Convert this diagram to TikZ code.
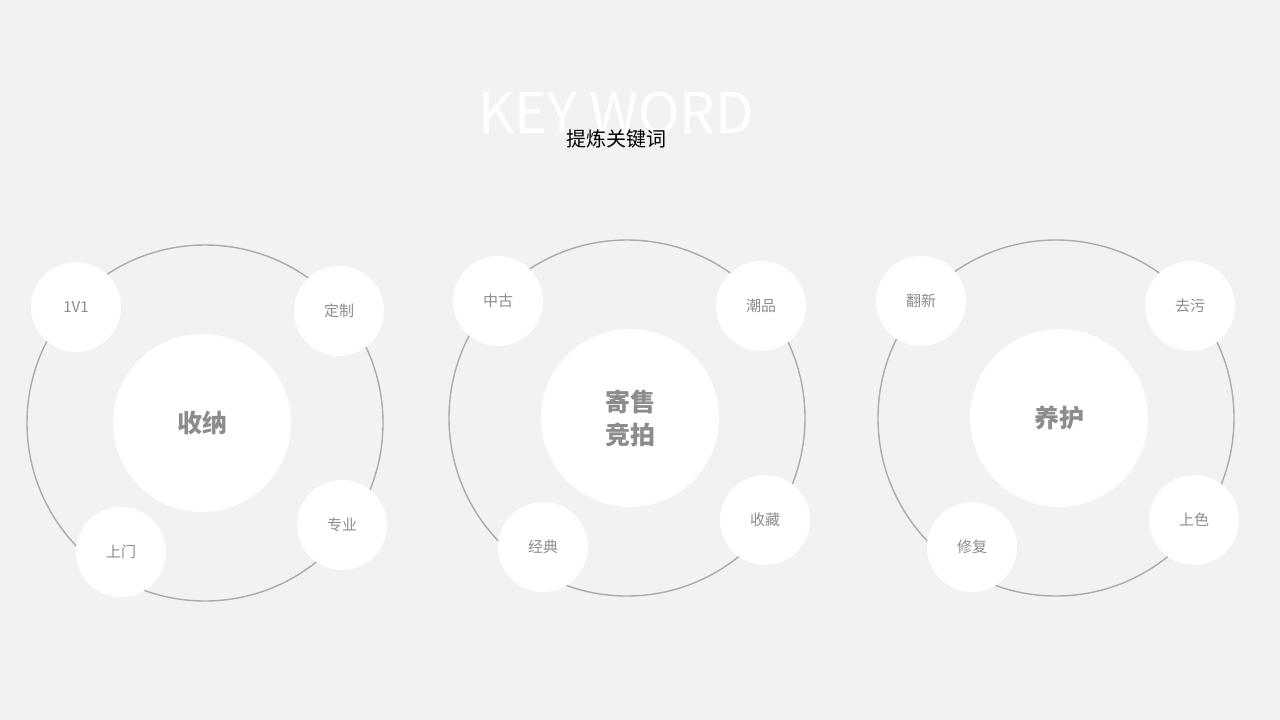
\documentclass[tikz,border=0pt]{standalone}
\usepackage{fontspec}
\setmainfont{Noto Sans CJK SC}
\newfontfamily\cjk{Noto Sans CJK SC}
\definecolor{bgcol}{HTML}{F2F2F2}
\definecolor{ringcol}{HTML}{ABABAB}
\definecolor{wordcol}{HTML}{8C8C8C}
\tikzstyle{ring} = [circle, draw=ringcol, line width=1.4pt, minimum size=356pt, inner sep=0pt]
\tikzstyle{hub} = [circle, fill=white, minimum size=178pt, inner sep=0pt, text=wordcol, font=\cjk\fontsize{25}{33}\selectfont\bfseries, align=center]
\tikzstyle{word} = [circle, fill=white, minimum size=90pt, inner sep=0pt, text=wordcol, font=\cjk\fontsize{15}{18}\selectfont]

\begin{document}
\begin{tikzpicture}[x=1pt,y=-1pt]
 \fill[bgcol] (0,0) rectangle (1280,720);
 \useasboundingbox (0,0) rectangle (1280,720);

 \node (title) [text=white, font=\fontsize{56}{60}\selectfont] at (616,113) {KEY WORD};
 \node (subtitle) [text=black, font=\cjk\fontsize{20}{24}\selectfont] at (616,139) {提炼关键词};

 % storage
 \node (ring1) [ring] at (205,423) {};
 \node (hub1) [hub] at (202,423) {收纳};
 \node (w11) [word] at (76,307) {1V1};
 \node (w12) [word] at (339,311) {定制};
 \node (w13) [word] at (121,552) {上门};
 \node (w14) [word] at (342,525) {专业};

 % consignment
 \node (ring2) [ring] at (627,418) {};
 \node (hub2) [hub] at (630,418) {寄售\\竞拍};
 \node (w21) [word] at (498,301) {中古};
 \node (w22) [word] at (761,306) {潮品};
 \node (w23) [word] at (543,547) {经典};
 \node (w24) [word] at (765,520) {收藏};

 % care
 \node (ring3) [ring] at (1056,418) {};
 \node (hub3) [hub] at (1059,418) {养护};
 \node (w31) [word] at (921,301) {翻新};
 \node (w32) [word] at (1190,306) {去污};
 \node (w33) [word] at (972,547) {修复};
 \node (w34) [word] at (1194,520) {上色};
\end{tikzpicture}
\end{document}
